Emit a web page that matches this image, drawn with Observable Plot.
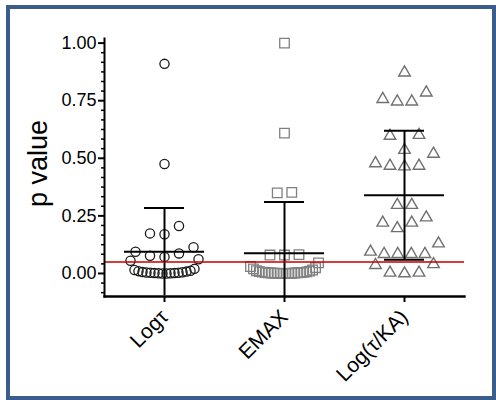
<!DOCTYPE html>
<html>
<head>
<meta charset="utf-8">
<script src="https://cdn.jsdelivr.net/npm/d3@7"></script>
<script src="https://cdn.jsdelivr.net/npm/@observablehq/plot@0.6"></script>
<style>
  html, body { margin: 0; padding: 0; background: #fff; }
  #wrap { position: relative; width: 496px; height: 400px; overflow: hidden; background: #fff; }
  #wrap svg { position: absolute; left: 0; top: 0; }
  #border { position: absolute; left: 6px; top: 5px; width: 482px; height: 387px;
            border: 4px solid #3b5d8c; pointer-events: none; }
</style>
</head>
<body>
<div id="wrap"><div id="border"></div></div>
<script>
// ---- data ----
const groups = ["Logτ", "EMAX", "Log(τ/KA)"];

const logTau = [0.91, 0.475, 0.206, 0.17, 0.174, 0.114, 0.094, 0.077, 0.072, 0.087,
  0.062, 0.055, 0.02, 0.015, 0.012, 0.01, 0.008, 0.006, 0.005, 0.004, 0.003, 0.003,
  0.002, 0.002, 0.001, 0.001, 0, 0];

const emax = [1.0, 0.609, 0.35, 0.352, 0.08, 0.082, 0.08, 0.046, 0.03, 0.025, 0.02,
  0.015, 0.012, 0.01, 0.008, 0.007, 0.006, 0.005, 0.004, 0.004, 0.003, 0.003, 0.002,
  0.002, 0.001, 0.001, 0.001, 0, 0, 0, 0];

const logTauKA = [0.872, 0.757, 0.746, 0.746, 0.785, 0.597, 0.601, 0.519, 0.536, 0.464,
  0.467, 0.467, 0.478, 0.297, 0.297, 0.243, 0.22, 0.196, 0.22, 0.13, 0.084, 0.084,
  0.084, 0.084, 0.094, 0.036, 0.04, 0.003, 0, 0.003];

const means = [0.094, 0.088, 0.34];
const sds = [0.19, 0.222, 0.28];

const yTicks = [0, 0.25, 0.5, 0.75, 1];
const threshold = 0.05;

// ---- layout ----
const W = 496, H = 400;
const mL = 104, mR = 32, mT = 38, mB = 104;
const yMin = -0.1, yMax = 1.02;
const pxPerUnit = (W - mL - mR) / groups.length;

// Prism-style scatter-dot spreading: rows of nearly equal values, spread
// symmetrically around the category centre (smallest values in the middle).
function spread(values, rowH = 0.066, step = 14.5, maxHalf = 34) {
  const order = d3.range(values.length).sort((a, b) => values[a] - values[b]);
  const off = new Array(values.length).fill(0);
  let i = 0;
  while (i < order.length) {
    const start = values[order[i]];
    let j = i;
    while (j < order.length && values[order[j]] <= start + rowH + 1e-9) j++;
    const row = order.slice(i, j);
    const n = row.length;
    const sp = n > 1 ? Math.min(step, 2 * maxHalf / (n - 1)) : 0;
    const slots = d3.range(n).map(k => (k - (n - 1) / 2) * sp)
      .sort((a, b) => Math.abs(a) - Math.abs(b) || a - b);
    row.forEach((p, r) => { off[p] = slots[r]; });
    i = j;
  }
  return off;
}

function points(values, gi) {
  const off = spread(values);
  return values.map((v, k) => ({g: gi, x: gi + off[k] / pxPerUnit, p: v}));
}

const ptsTau = points(logTau, 0);
const ptsEmax = points(emax, 1);
const ptsKA = points(logTauKA, 2);

const stats = groups.map((g, i) => ({i, mean: means[i], sd: sds[i]}));
const lowerCaps = stats.filter(d => d.mean - d.sd > yMin + 0.02);
const capHalf = 20 / pxPerUnit;
const meanHalf = 40 / pxPerUnit;

const minorTicks = d3.range(-2, 25).map(k => k / 24).filter(v => !yTicks.some(t => Math.abs(t - v) < 1e-9));

const font = "'Liberation Sans', Arial, sans-serif";

const chart = Plot.plot({
  width: W, height: H,
  marginLeft: mL, marginRight: mR, marginTop: mT, marginBottom: mB,
  style: {fontFamily: font, fontSize: "18px", background: "transparent", color: "#000"},
  x: {domain: [-0.5, groups.length - 0.5], axis: null},
  y: {domain: [yMin, yMax], axis: null},
  marks: [
    // dots
    Plot.dot(ptsTau, {x: "x", y: "p", symbol: "circle", r: 4.6, stroke: "#1a1a1a", strokeWidth: 1.3, fill: "none"}),
    Plot.dot(ptsEmax, {x: "x", y: "p", symbol: "square", r: 5.4, stroke: "#808080", strokeWidth: 1.3, fill: "none"}),
    Plot.dot(ptsKA, {x: "x", y: "p", symbol: "triangle", r: 4.3, stroke: "#707070", strokeWidth: 1.4, fill: "none"}),
    // error bars: mean ± SD
    Plot.ruleX(stats, {x: "i", y1: d => d.mean - d.sd, y2: d => d.mean + d.sd, stroke: "#000", strokeWidth: 2, clip: true}),
    Plot.ruleY(stats, {y: d => d.mean + d.sd, x1: d => d.i - capHalf, x2: d => d.i + capHalf, stroke: "#000", strokeWidth: 2}),
    Plot.ruleY(lowerCaps, {y: d => d.mean - d.sd, x1: d => d.i - capHalf, x2: d => d.i + capHalf, stroke: "#000", strokeWidth: 2}),
    Plot.ruleY(stats, {y: "mean", x1: d => d.i - meanHalf, x2: d => d.i + meanHalf, stroke: "#000", strokeWidth: 2}),
    // significance threshold
    Plot.ruleY([threshold], {stroke: "#c00000", strokeWidth: 1.5}),
    // axes
    Plot.frame({anchor: "left", stroke: "#000", strokeWidth: 2}),
    Plot.frame({anchor: "bottom", stroke: "#000", strokeWidth: 2.4}),
    Plot.axisY({ticks: minorTicks, tickSize: 3, tickFormat: () => "", strokeWidth: 1.5, label: null}),
    Plot.axisY({ticks: yTicks, tickSize: 6, tickPadding: 2, tickFormat: d3.format(".2f"), strokeWidth: 2, fontSize: 18, label: null}),
    Plot.axisX({ticks: d3.range(groups.length), tickFormat: i => groups[i], tickRotate: -45, tickSize: 6, tickPadding: 11, strokeWidth: 2, fontSize: 21, label: null}),
    Plot.text(["p value"], {frameAnchor: "left", textAnchor: "middle", dx: -66, dy: -4, rotate: -90, fontSize: 27, fill: "#000"})
  ]
});

document.getElementById("wrap").prepend(chart);
</script>
</body>
</html>
